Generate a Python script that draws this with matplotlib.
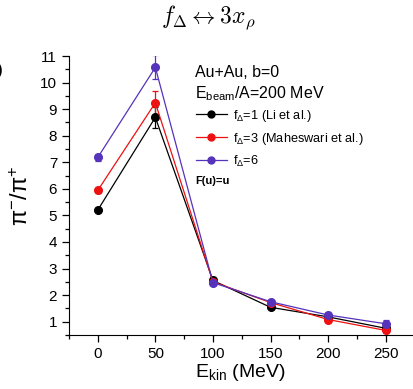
import matplotlib.pyplot as plt
from matplotlib.lines import Line2D

plt.rcParams['font.family'] = ['Liberation Sans', 'DejaVu Sans']
plt.rcParams['mathtext.fontset'] = 'custom'
plt.rcParams['mathtext.rm'] = 'Liberation Sans'
plt.rcParams['mathtext.it'] = 'Liberation Sans:italic'

ekin = [0, 50, 100, 150, 200, 250]

ratio_f1 = [5.2, 8.69, 2.55, 1.54, 1.18, 0.75]
err_f1 = [0.06, 0.40, 0.08, 0.06, 0.06, 0.10]

ratio_f3 = [5.94, 9.24, 2.50, 1.72, 1.08, 0.67]
err_f3 = [0.08, 0.45, 0.08, 0.06, 0.06, 0.10]

ratio_f6 = [7.18, 10.57, 2.47, 1.75, 1.25, 0.92]
err_f6 = [0.12, 0.45, 0.08, 0.06, 0.07, 0.15]

labels = [r'f$_{\mathregular{\Delta}}$=1 (Li et al.)',
          r'f$_{\mathregular{\Delta}}$=3 (Maheswari et al.)',
          r'f$_{\mathregular{\Delta}}$=6']
colors = ['black', '#ee1111', '#5533bb']

fig = plt.figure(figsize=(4.13, 3.89), dpi=100)
ax = fig.add_axes([0.167, 0.139, 0.831, 0.717])

handles = []
for y, e, c, lab in zip([ratio_f1, ratio_f3, ratio_f6], [err_f1, err_f3, err_f6], colors, labels):
    ax.errorbar(ekin, y, yerr=e, color=c, marker='o', markersize=5.5, lw=0.9,
                capsize=2.5, elinewidth=0.9, capthick=0.9)
    handles.append(Line2D([], [], color=c, marker='o', markersize=5, lw=0.9, label=lab))

ax.set_xlim(-25, 273)
ax.set_ylim(0.5, 11.0)
ax.set_xticks([0, 50, 100, 150, 200, 250])
ax.set_xticks(range(-25, 275, 25), minor=True)
ax.set_yticks(range(1, 12))
ax.set_yticks([x + 0.5 for x in range(0, 11)], minor=True)
ax.tick_params(which='major', direction='out', length=5, width=0.9, labelsize=11)
ax.tick_params(which='minor', direction='out', length=3, width=0.9)
for s in ['top', 'right']:
    ax.spines[s].set_visible(False)

ax.set_xlabel(r'E$_{\mathregular{kin}}$ (MeV)', fontsize=14, labelpad=1)
ax.set_ylabel(r'$\mathregular{\pi^{-}/\pi^{+}}$', fontsize=17, labelpad=5)

fig.text(0.505, 0.955, r'$f_\Delta \leftrightarrow 3x_\rho$', ha='center', va='center',
         fontsize=17, math_fontfamily='cm')
fig.text(0.472, 0.813, 'Au+Au, b=0', fontsize=11.5, va='center')
fig.text(0.472, 0.76, r'E$_{\mathregular{beam}}$/A=200 MeV', fontsize=11.5, va='center')
fig.text(0.472, 0.535, 'F(u)=u', fontsize=8, fontweight='bold', va='center')
fig.text(0.008, 0.82, '(b)', fontsize=14, ha='right', va='center')

ax.legend(handles=handles, loc='upper left', bbox_to_anchor=(0.37, 0.815), frameon=False,
          fontsize=9.2, handlelength=2.4, handletextpad=0.5, labelspacing=0.55,
          borderaxespad=0, borderpad=0)

fig.savefig('out.png', dpi=100)
